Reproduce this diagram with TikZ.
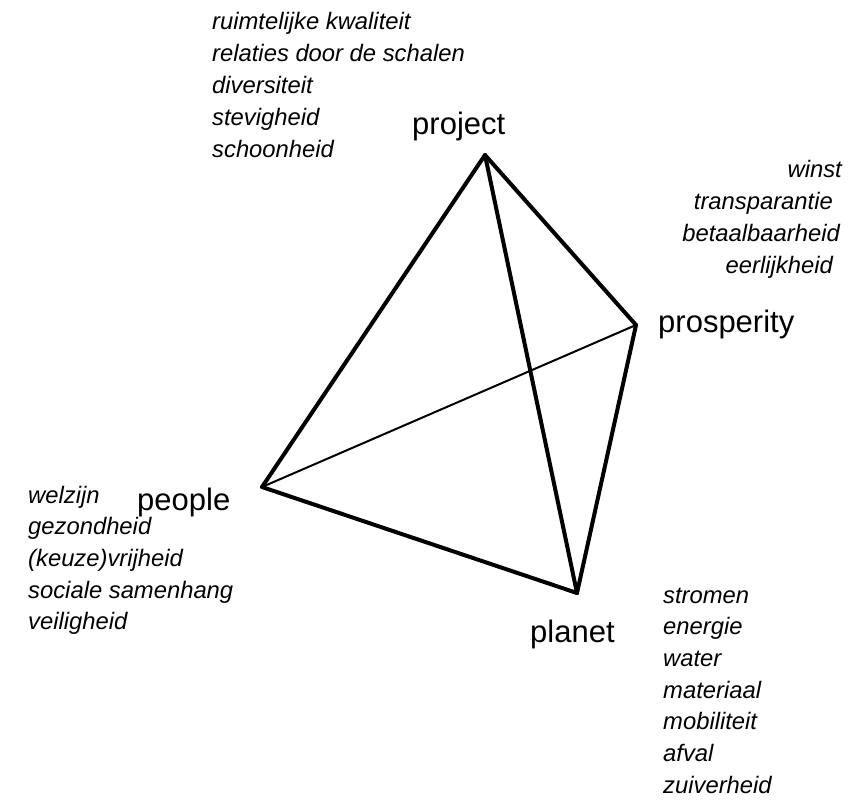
\documentclass[tikz,border=0pt]{standalone}
\usepackage{fontspec}
\setmainfont{Liberation Sans}
\begin{document}
\begin{tikzpicture}[x=1pt,y=-1pt,
  edge/.style={line width=4pt, line join=round, line cap=round},
  thinedge/.style={line width=2pt, line cap=round},
  biglabel/.style={font=\fontsize{31}{36}\selectfont, inner sep=0, anchor=base west},
  item/.style={font=\fontsize{23.8}{30}\selectfont\itshape, inner sep=0},
]
\useasboundingbox[fill=white] (0,0) rectangle (858,807);
% vertices
\coordinate (pj) at (485,155);
\coordinate (pr) at (636,325);
\coordinate (pe) at (262,487);
\coordinate (pl) at (577,593);
% edges
\draw[thinedge] (pe) -- (pr);
\draw[edge] (pj) -- (pe);
\draw[edge] (pj) -- (pr);
\draw[edge] (pj) -- (pl);
\draw[edge] (pe) -- (pl);
\draw[edge] (pr) -- (pl);
% main labels
\node[biglabel] (lproject) at (412,134) {project};
\node[biglabel] (lprosperity) at (658,332) {prosperity};
\node[biglabel] (lpeople) at (137,510) {people};
\node[biglabel] (lplanet) at (530,642) {planet};
% project list
\foreach \t [count=\i] in {ruimtelijke kwaliteit, relaties door de schalen, diversiteit, stevigheid, schoonheid}
  \node[item, anchor=base west] (pj\i) at (212,{29+32*(\i-1)}) {\t};
% prosperity list
\node[item, anchor=base east] (pr1) at (842,177) {winst};
\node[item, anchor=base east] (pr2) at (833,209) {transparantie};
\node[item, anchor=base east] (pr3) at (840,241) {betaalbaarheid};
\node[item, anchor=base east] (pr4) at (833,273) {eerlijkheid};
% people list
\foreach \t [count=\i] in {welzijn, gezondheid, (keuze)vrijheid, sociale samenhang, veiligheid}
  \node[item, anchor=base west] (pe\i) at (28,{503+31.7*(\i-1)}) {\t};
% planet list
\foreach \t [count=\i] in {stromen, energie, water, materiaal, mobiliteit, afval, zuiverheid}
  \node[item, anchor=base west] (pl\i) at (663,{603+31.7*(\i-1)}) {\t};
\end{tikzpicture}
\end{document}
